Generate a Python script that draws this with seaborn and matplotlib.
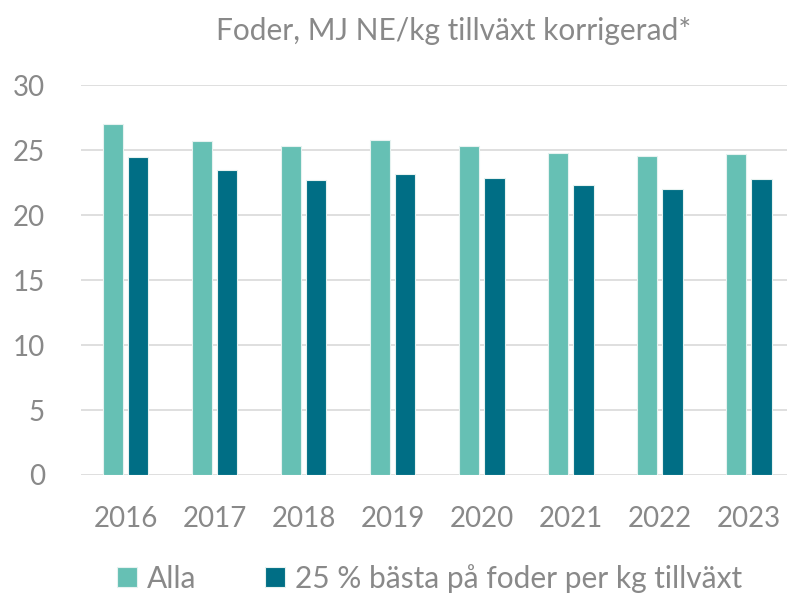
import matplotlib
matplotlib.use("Agg")
import pandas as pd
import matplotlib.pyplot as plt
import seaborn as sns

years = ["2016", "2017", "2018", "2019", "2020", "2021", "2022", "2023"]
alla = [27.0, 25.7, 25.3, 25.8, 25.3, 24.8, 24.6, 24.7]
basta = [24.5, 23.5, 22.7, 23.2, 22.9, 22.3, 22.0, 22.8]
series = ["Alla", "25 % bästa på foder per kg tillväxt"]

df = pd.DataFrame({
    "year": years * 2,
    "value": alla + basta,
    "serie": [series[0]] * len(years) + [series[1]] * len(years),
})

sns.set_theme(style="white")
plt.rcParams["font.family"] = ["Lato", "DejaVu Sans"]
grey = "#898989"

fig = plt.figure(figsize=(7.87, 5.93), dpi=100)
ax = fig.add_axes([0.103, 0.199, 0.905, 0.657])

sns.barplot(data=df, x="year", y="value", hue="serie",
            palette=["#66C0B4", "#006E85"], saturation=1, width=0.57, gap=0.2,
            edgecolor="#e6f2f0", linewidth=0.8, ax=ax, zorder=3)

ax.set_ylim(0, 30)
ax.set_yticks(range(0, 31, 5))
ax.set_xlim(-0.5, 7.5)
ax.grid(axis="y", color="#D9D9D9", linewidth=1.2, zorder=0)
for s in ax.spines.values():
    s.set_visible(False)
ax.tick_params(axis="both", length=0, labelsize=20, labelcolor=grey)
ax.tick_params(axis="x", pad=22)
ax.tick_params(axis="y", pad=26)
ax.set_xlabel("")
ax.set_ylabel("")

fig.text(0.577, 0.948, "Foder, MJ NE/kg tillväxt korrigerad*", fontsize=21.5,
         color=grey, ha="center", va="center")

handles, labels = ax.get_legend_handles_labels()
ax.legend(handles, labels, loc="center", bbox_to_anchor=(0.546, 0.025),
          bbox_transform=fig.transFigure,
          ncol=2, frameon=False, fontsize=21.5, labelcolor=grey,
          handlelength=0.65, handleheight=0.65, handletextpad=0.35, columnspacing=2.3)

fig.savefig("out.png", dpi=100)
